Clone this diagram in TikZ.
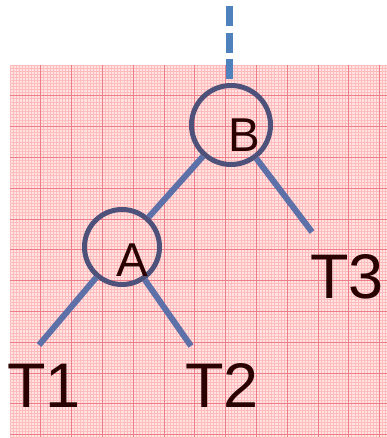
\documentclass[tikz,border=0pt]{standalone}
\usepackage{fontspec}
\setmainfont{Liberation Sans}
\usetikzlibrary{positioning}
\definecolor{cPaper}{RGB}{255,226,226}
\definecolor{cFine}{RGB}{255,188,188}
\definecolor{cMajor}{RGB}{238,125,135}
\definecolor{cRing}{RGB}{78,82,122}
\definecolor{cEdge}{RGB}{94,112,168}
\definecolor{cDash}{RGB}{79,129,189}
\definecolor{cInk}{RGB}{42,2,2}
\tikzset{
	vertex/.style ={circle, draw=cRing, line width=5pt, inner sep=0pt},
	letter/.style ={font=\fontsize{47.5}{48}\selectfont, text=cInk, inner sep=0pt},
	leaf/.style   ={font=\fontsize{63}{63}\selectfont, text=cInk, inner sep=0pt},
	branch/.style ={draw=cEdge, line width=6pt},
	parent/.style ={draw=cDash, line width=7pt, dash pattern=on 20pt off 6.67pt},
	finegrid/.style ={draw=cFine, line width=0.9pt},
	majorgrid/.style={draw=cMajor, line width=0.7pt},
}
\begin{document}
\begin{tikzpicture}[x=1pt, y=-1pt]
	\useasboundingbox (0,0) rectangle (387,438);
	% grid paper
	\fill[cPaper] (10,65) rectangle (387,437);
	\foreach \i in {0,...,122} {
		\draw[finegrid] ({10+3.08*\i},65) -- ++(0,372);
		\draw[finegrid] (10,{65+3.08*\i}) -- ++(377,0);
	}
	\foreach \i in {1,...,12} {
		\draw[majorgrid] ({10+30.8*\i},65) -- ++(0,372);
		\draw[majorgrid] (10,{65+30.8*\i}) -- ++(377,0);
	}
	% tree
	\node[vertex, minimum size=79pt, label={[letter, xshift=13pt, yshift=-10pt]center:B}] (vB) at (231,125) {};
	\node[vertex, minimum size=75pt, label={[letter, xshift=10pt, yshift=-13pt]center:A}] (vA) at (122,247) {};
	\coordinate (top) at (229,6);
	\coordinate (e1) at (39,345);
	\coordinate (e2) at (191,346);
	\coordinate (e3) at (312,232);
	\node[leaf] (t1) at (44,385.5) {T1};
	\node[leaf] (t2) at (222,385.5) {T2};
	\node[leaf] (t3) at (347,276.5) {T3};
	\draw[parent] (top) -- (top |- vB.north);
	\draw[branch] (vB) -- (vA);
	\draw[branch] (vB) -- (e3);
	\draw[branch] (vA) -- (e1);
	\draw[branch] (vA) -- (e2);
\end{tikzpicture}
\end{document}
